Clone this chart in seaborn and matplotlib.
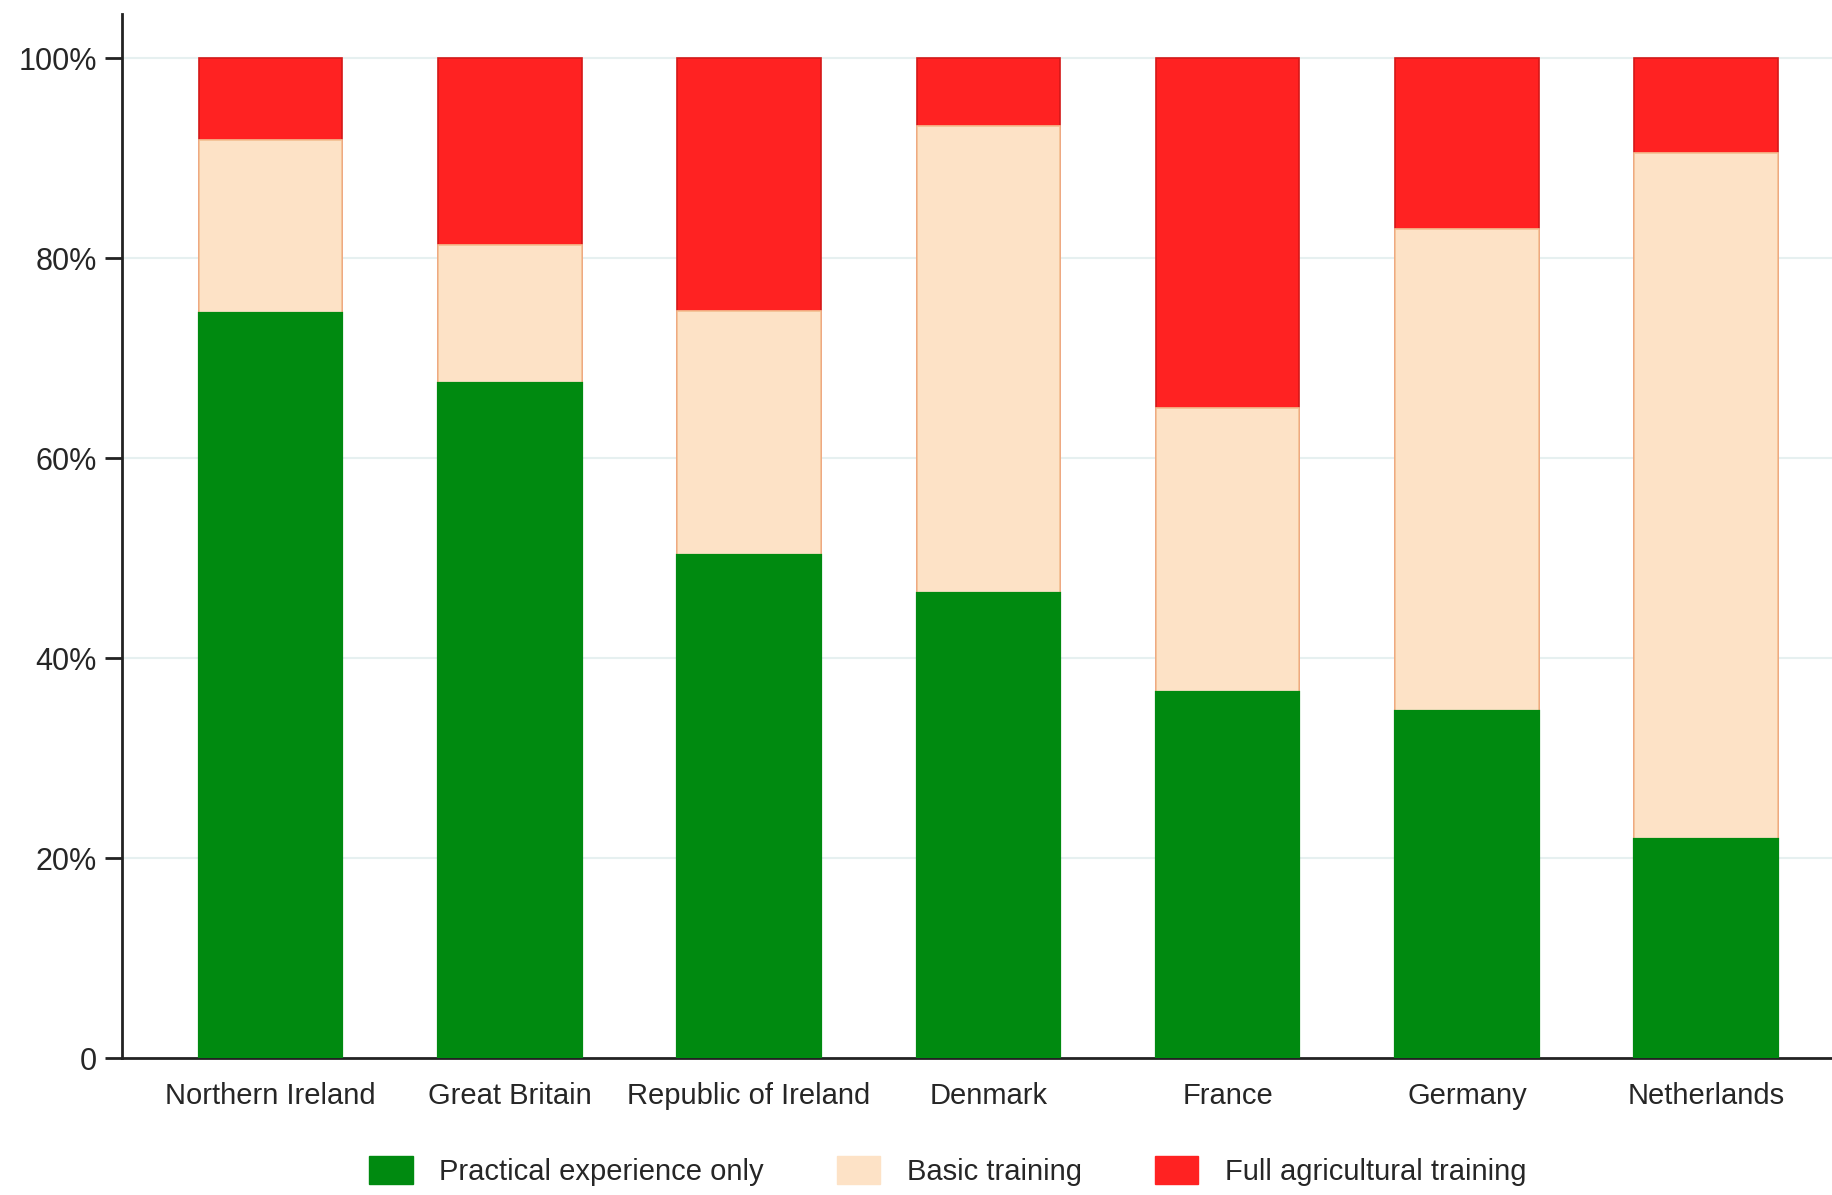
import matplotlib
matplotlib.use("Agg")
import matplotlib.pyplot as plt
import seaborn as sns
import pandas as pd
import numpy as np
from matplotlib.patches import Patch
from matplotlib.ticker import FuncFormatter

countries = ["Northern Ireland", "Great Britain", "Republic of Ireland", "Denmark",
             "France", "Germany", "Netherlands"]
practical = [74.5, 67.5, 50.3, 46.5, 36.6, 34.7, 21.9]
basic = [17.3, 13.8, 24.4, 46.7, 28.4, 48.2, 68.6]
full = [8.2, 18.7, 25.3, 6.8, 35.0, 17.1, 9.5]
series_names = ["Practical experience only", "Basic training", "Full agricultural training"]
yticks = [0, 20, 40, 60, 80, 100]

c_green = "#008A10"
c_basic = "#FDE2C6"
c_red = "#FF2222"

sns.set_style("white")
plt.rcParams['font.family'] = ['Liberation Sans Narrow', 'Liberation Sans', 'DejaVu Sans']

fig = plt.figure(figsize=(18.33, 11.95), dpi=100)
ax = fig.add_axes([0.0666, 0.1146, 0.9334, 0.8734])

df = pd.DataFrame({"country": countries, "practical": practical,
                   "basic": basic, "full": full})
df["top_basic"] = df["practical"] + df["basic"]
df["top_full"] = df["top_basic"] + df["full"]

for v in yticks[1:]:
    ax.axhline(v, color="#E6F0F0", lw=1.5, zorder=0)

sns.barplot(data=df, x="country", y="top_full", color=c_red, width=0.6,
            edgecolor="#D41818", linewidth=1.2, saturation=1, ax=ax, zorder=2)
sns.barplot(data=df, x="country", y="top_basic", color=c_basic, width=0.6,
            edgecolor="#F3BF90", linewidth=1.2, saturation=1, ax=ax, zorder=3)
sns.barplot(data=df, x="country", y="practical", color=c_green, width=0.6,
            edgecolor=c_green, linewidth=1.6, saturation=1, ax=ax, zorder=4)

ax.set_xlim(-0.62, 6.53)
ax.set_ylim(0, 104.4)
ax.set_yticks(yticks)
ax.yaxis.set_major_formatter(FuncFormatter(lambda v, p: "0" if v == 0 else f"{v:.0f}%"))
ax.set_xlabel("")
ax.set_ylabel("")
for s in ["top", "right"]:
    ax.spines[s].set_visible(False)
for s in ["left", "bottom"]:
    ax.spines[s].set_color("#222222")
    ax.spines[s].set_linewidth(2)
ax.tick_params(axis="y", which="both", left=True, length=12, width=2, color="#222222",
               labelsize=22, pad=6)
ax.tick_params(axis="x", bottom=False, labelsize=21, pad=14)
ax.grid(False)

handles = [Patch(facecolor=c_green, edgecolor=c_green),
           Patch(facecolor=c_basic, edgecolor=c_basic),
           Patch(facecolor=c_red, edgecolor=c_red)]
fig.legend(handles, series_names, loc="center", bbox_to_anchor=(0.517, 0.02),
           ncol=3, frameon=False, fontsize=21, handlelength=1.5, handleheight=1.1,
           columnspacing=2.5, handletextpad=0.9)

fig.savefig("out.png", dpi=100)
